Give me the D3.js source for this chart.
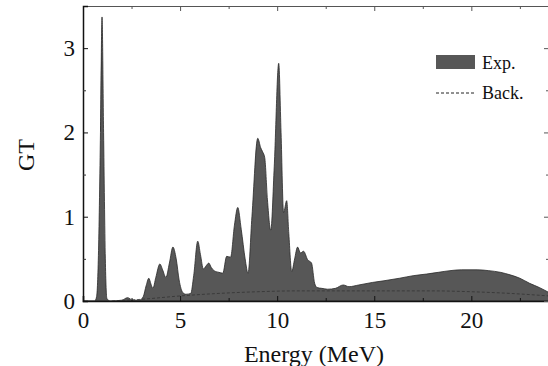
<!DOCTYPE html>
<html>
<head>
<meta charset="utf-8">
<script src="https://cdn.jsdelivr.net/npm/d3@7"></script>
<style>
  body { margin: 0; background: #fff; }
  svg { display: block; }
  text { font-family: "Liberation Serif", "Times New Roman", serif; fill: #111; }
</style>
</head>
<body>
<svg id="chart" width="548" height="366"></svg>
<script>
// GT strength (energy in MeV, GT)
var expEnergy = [0, 0.6, 0.7, 0.8, 0.9, 0.98, 1.06, 1.15, 1.23, 1.4, 2.0, 2.3, 2.55, 2.9,
  3.1, 3.25, 3.39, 3.5, 3.6, 3.75, 3.96, 4.1, 4.27, 4.45, 4.63, 4.8, 4.95, 5.14, 5.3, 5.55,
  5.7, 5.91, 6.05, 6.2, 6.35, 6.48, 6.6, 6.75, 7.0, 7.2, 7.4, 7.6, 7.8, 7.97, 8.15, 8.35, 8.5,
  8.7, 9.0, 9.15, 9.25, 9.36, 9.5, 9.67, 9.85, 10.08, 10.2, 10.33, 10.49, 10.6, 10.75, 10.9,
  11.05, 11.2, 11.36, 11.57, 11.77, 11.93, 12.05, 12.3, 12.6, 13.0, 13.4, 13.7, 14.2, 14.9,
  15.5, 16.3, 17.0, 17.7, 18.3, 18.9, 19.5, 20.3, 20.9, 21.5, 22.0, 22.5, 23.0, 23.5, 24.0];
var expGT = [0, 0, 0.05, 0.6, 2.0, 3.37, 2.0, 0.5, 0.03, 0, 0.01, 0.04, 0.01, 0.01,
  0.05, 0.18, 0.27, 0.2, 0.15, 0.28, 0.44, 0.37, 0.28, 0.45, 0.64, 0.5, 0.25, 0.1, 0.08, 0.09,
  0.3, 0.71, 0.55, 0.38, 0.42, 0.45, 0.4, 0.36, 0.34, 0.33, 0.53, 0.52, 0.9, 1.11, 0.85, 0.5, 0.33,
  1.0, 1.93, 1.82, 1.77, 1.7, 1.2, 0.84, 1.6, 2.82, 2.0, 1.05, 1.19, 0.8, 0.35, 0.5,
  0.64, 0.57, 0.59, 0.49, 0.45, 0.21, 0.16, 0.15, 0.14, 0.15, 0.19, 0.17, 0.19, 0.22,
  0.24, 0.27, 0.3, 0.32, 0.34, 0.36, 0.37, 0.37, 0.36, 0.34, 0.31, 0.27, 0.21, 0.16, 0.1];

var backEnergy = [1.5, 3, 5, 7, 9, 11, 12, 14, 16, 18, 20, 22, 24];
var backGT = [0, 0.02, 0.06, 0.09, 0.11, 0.12, 0.12, 0.12, 0.12, 0.12, 0.11, 0.09, 0.06];

var xMajor = [0, 5, 10, 15, 20];
var xMinor = [2.5, 7.5, 12.5, 17.5, 22.5];
var yMajor = [0, 1, 2, 3];
var yMinor = [0.5, 1.5, 2.5];

var svg = d3.select('#chart');
var plotLeft = 83, plotRight = 549, plotTop = 6, plotBottom = 301;
var fillCol = '#575757';

var x = d3.scaleLinear().domain([0, 24]).range([plotLeft, plotRight]);
var y = d3.scaleLinear().domain([0, 3.5]).range([plotBottom, plotTop]);

svg.append('defs').append('clipPath').attr('id', 'plot')
  .append('rect').attr('x', plotLeft).attr('y', plotTop - 1)
  .attr('width', plotRight - plotLeft).attr('height', plotBottom - plotTop + 1);

var expData = expEnergy.map(function(e, i) { return [e, expGT[i]]; });
var backData = backEnergy.map(function(e, i) { return [e, backGT[i]]; });

var area = d3.area()
  .x(function(d) { return x(d[0]); })
  .y0(y(0))
  .y1(function(d) { return y(d[1]); })
  .curve(d3.curveMonotoneX);

var line = d3.line()
  .x(function(d) { return x(d[0]); })
  .y(function(d) { return y(d[1]); })
  .curve(d3.curveMonotoneX);

var plot = svg.append('g').attr('clip-path', 'url(#plot)');

plot.append('path').datum(expData)
  .attr('d', area)
  .attr('fill', fillCol)
  .attr('stroke', '#2a2a2a')
  .attr('stroke-width', 0.8);

plot.append('path').datum(backData)
  .attr('d', line)
  .attr('fill', 'none')
  .attr('stroke', '#333')
  .attr('stroke-width', 0.8)
  .attr('stroke-dasharray', '3,2');

// axes, ticks pointing inwards
function styleAxis(g, w, col) {
  g.attr('font-size', 23).attr('font-family', '"Liberation Serif", serif');
  g.select('.domain').attr('stroke', col).attr('stroke-width', w).attr('fill', 'none');
  g.selectAll('.tick line').attr('stroke', col);
  g.selectAll('.tick text').attr('fill', '#111');
}

function minorTicks(g, col) {
  g.select('.domain').remove();
  g.selectAll('line').attr('stroke', col);
}

var xAxis = svg.append('g').attr('transform', 'translate(0,' + plotBottom + ')')
  .call(d3.axisBottom(x).tickValues(xMajor).tickSize(-5).tickPadding(11).tickFormat(d3.format('d')));
styleAxis(xAxis, 1.6, '#111');
svg.append('g').attr('transform', 'translate(0,' + plotBottom + ')')
  .call(d3.axisBottom(x).tickValues(xMinor).tickSize(-3).tickFormat(''))
  .call(minorTicks, '#111');

var xTop = svg.append('g').attr('transform', 'translate(0,' + plotTop + ')')
  .call(d3.axisTop(x).tickValues(xMajor).tickSize(-5).tickFormat(''));
styleAxis(xTop, 1, '#555');
svg.append('g').attr('transform', 'translate(0,' + plotTop + ')')
  .call(d3.axisTop(x).tickValues(xMinor).tickSize(-3).tickFormat(''))
  .call(minorTicks, '#555');

var yAxis = svg.append('g').attr('transform', 'translate(' + plotLeft + ',0)')
  .call(d3.axisLeft(y).tickValues(yMajor).tickSize(-5).tickPadding(8).tickFormat(d3.format('d')));
styleAxis(yAxis, 1.5, '#111');
svg.append('g').attr('transform', 'translate(' + plotLeft + ',0)')
  .call(d3.axisLeft(y).tickValues(yMinor).tickSize(-3).tickFormat(''))
  .call(minorTicks, '#333');

var yRight = svg.append('g').attr('transform', 'translate(' + plotRight + ',0)')
  .call(d3.axisRight(y).tickValues(yMajor).tickSize(-5).tickFormat(''));
styleAxis(yRight, 1, '#555');
svg.append('g').attr('transform', 'translate(' + plotRight + ',0)')
  .call(d3.axisRight(y).tickValues(yMinor).tickSize(-3).tickFormat(''))
  .call(minorTicks, '#555');

// axis titles
svg.append('text')
  .attr('x', 314).attr('y', 362)
  .attr('text-anchor', 'middle').attr('font-size', 24)
  .text('Energy (MeV)');

svg.append('text')
  .attr('transform', 'translate(34,155) rotate(-90)')
  .attr('text-anchor', 'middle').attr('font-size', 24)
  .text('GT');

// legend
var legend = svg.append('g').attr('transform', 'translate(436,55)');
legend.append('rect').attr('x', 0).attr('y', 0).attr('width', 39).attr('height', 14)
  .attr('fill', fillCol);
legend.append('text').attr('x', 46).attr('y', 14).attr('font-size', 18).text('Exp.');
legend.append('line').attr('x1', 0).attr('x2', 39).attr('y1', 38).attr('y2', 38)
  .attr('stroke', '#222').attr('stroke-width', 1).attr('stroke-dasharray', '3,2');
legend.append('text').attr('x', 46).attr('y', 44).attr('font-size', 18).text('Back.');
</script>
</body>
</html>
